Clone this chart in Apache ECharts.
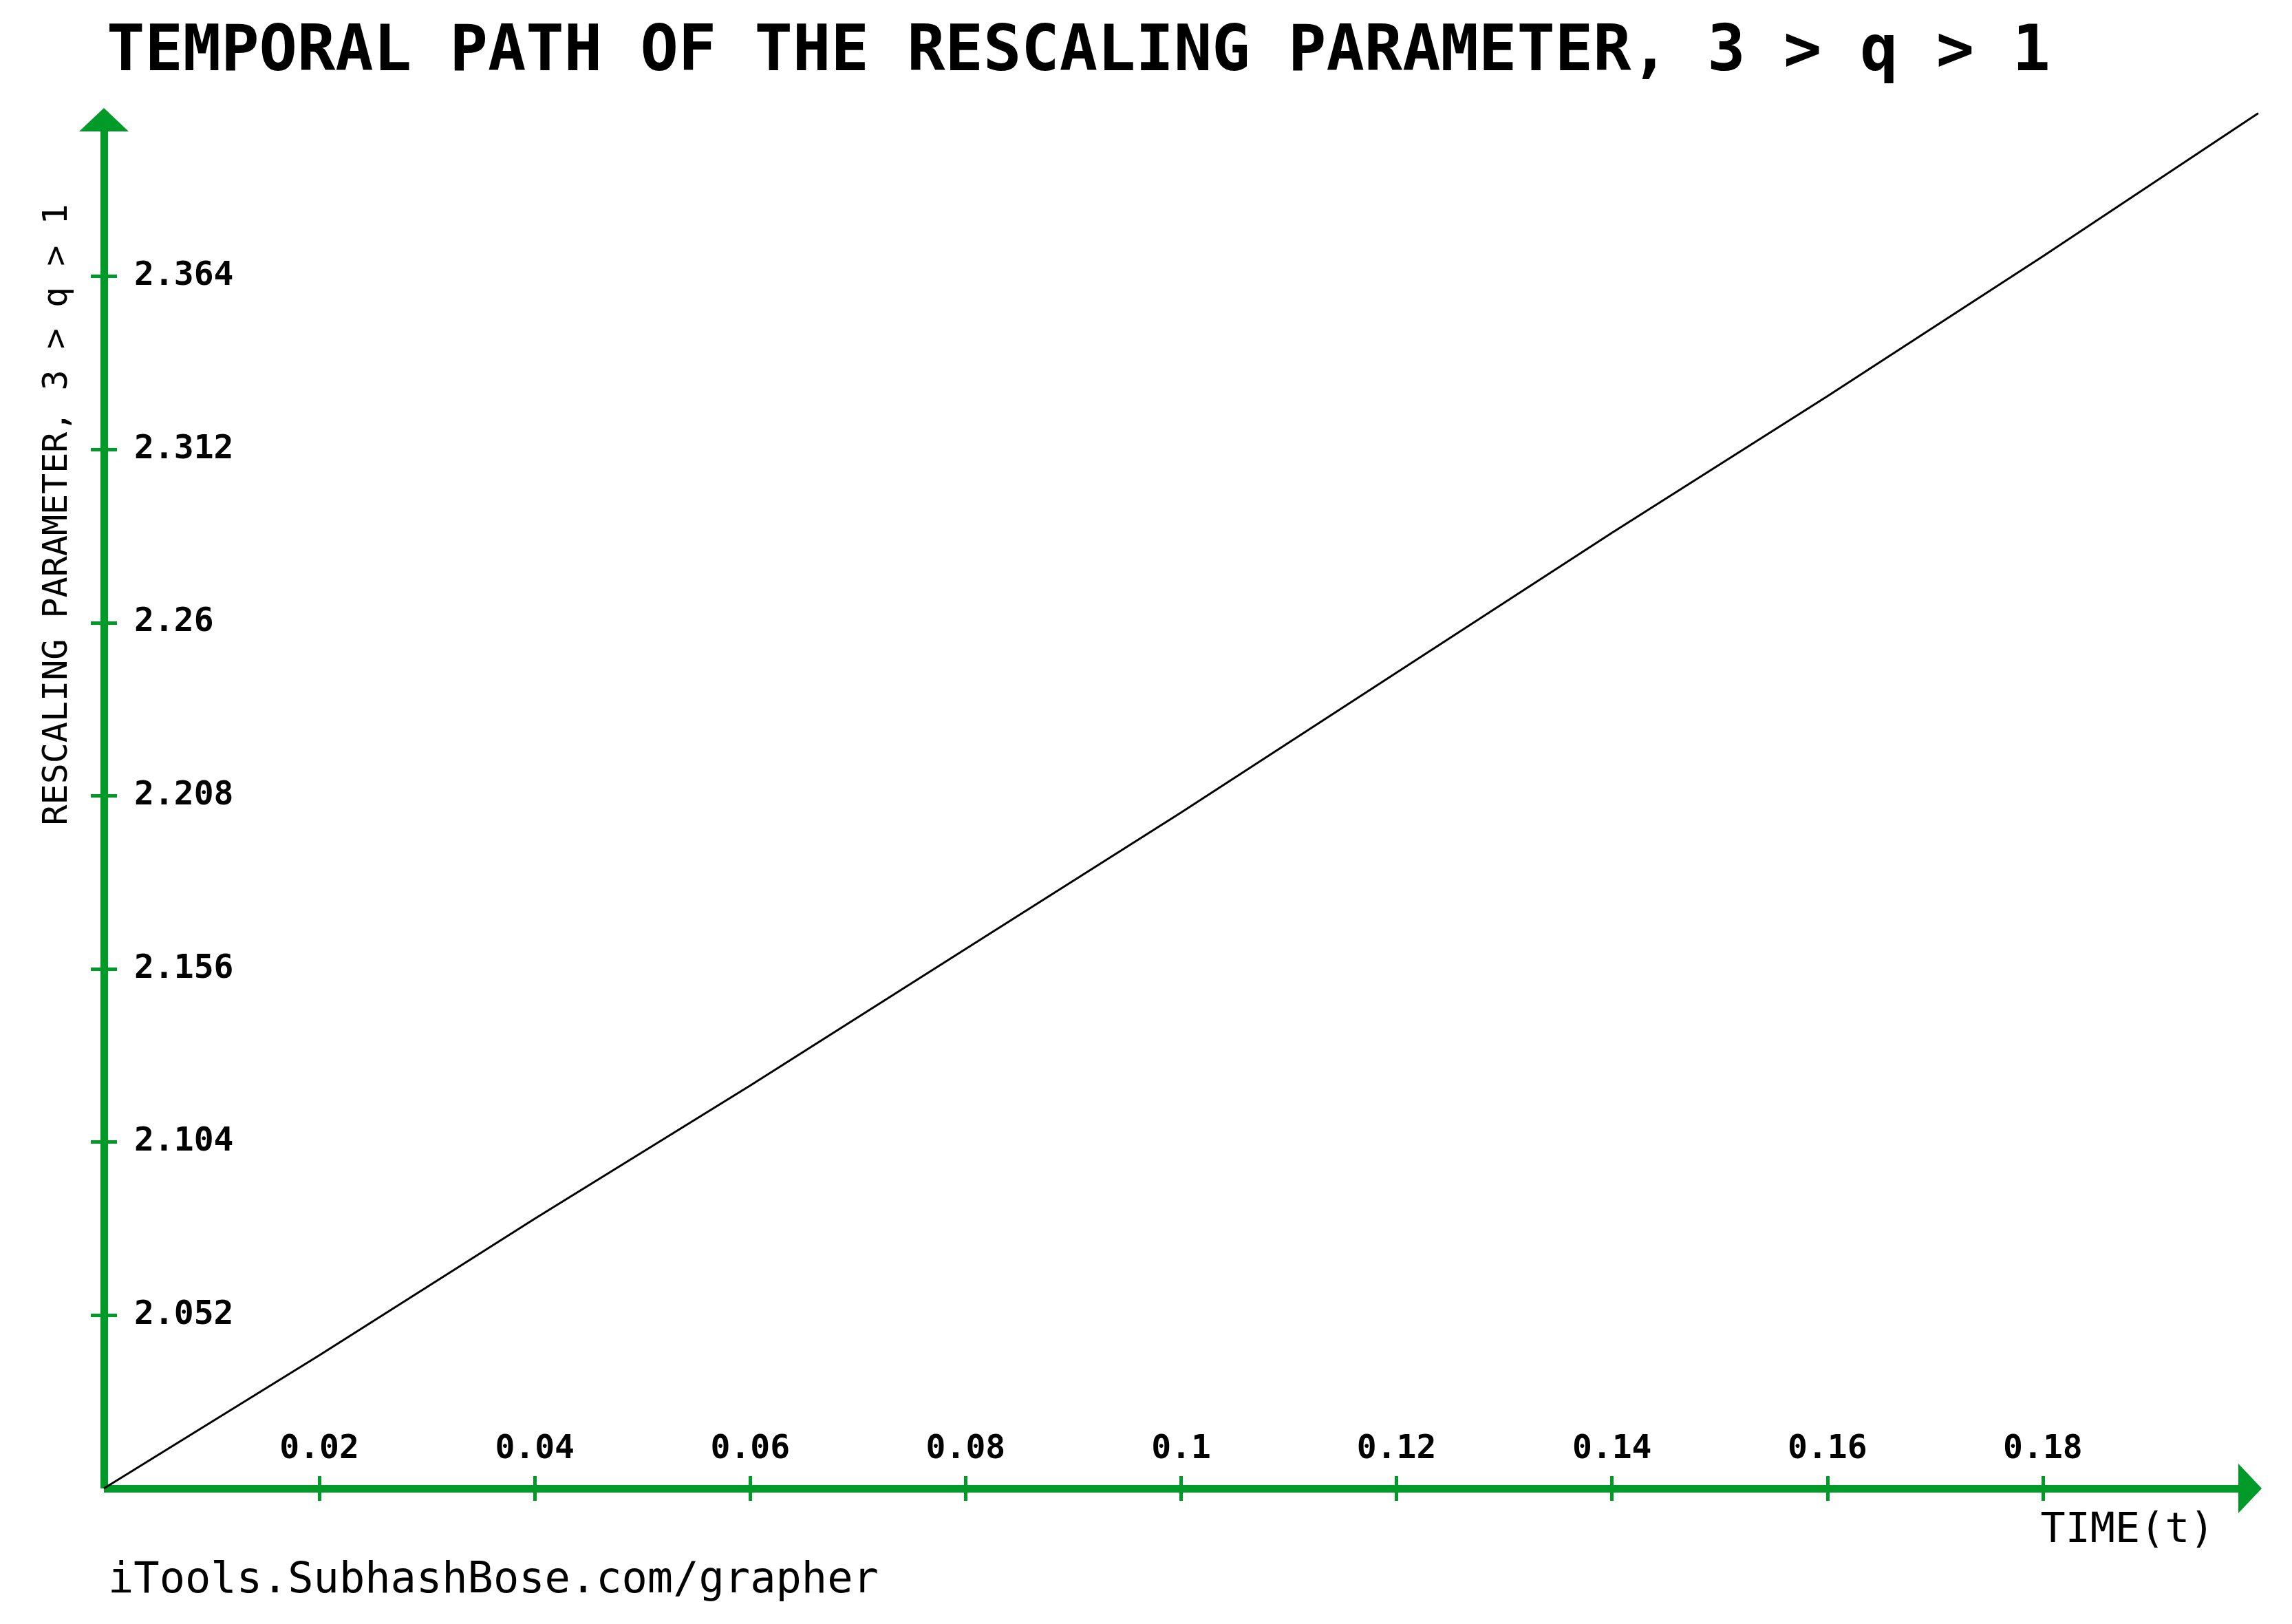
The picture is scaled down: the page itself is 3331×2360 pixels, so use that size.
<!DOCTYPE html>
<html>
<head>
<meta charset="utf-8">
<script src="https://cdn.jsdelivr.net/npm/echarts@6/dist/echarts.min.js"></script>
<style>
html,body{margin:0;padding:0;background:#fff;}
#chart{width:3331px;height:2360px;}
</style>
</head>
<body>
<div id="chart"></div>
<script>
// ---- data ----
const titleText = 'TEMPORAL PATH OF THE RESCALING PARAMETER, 3 > q > 1';
const xAxisName = 'TIME(t)';
const yAxisName = 'RESCALING PARAMETER, 3 > q > 1';
const footerText = 'iTools.SubhashBose.com/grapher';

const tValues = [0, 0.02, 0.04, 0.06, 0.08, 0.10, 0.12, 0.14, 0.16, 0.18, 0.20];
const qValues = [2.000, 2.040, 2.081, 2.121, 2.162, 2.203, 2.245, 2.287, 2.328, 2.370, 2.413];

const xTickValues = [0.02, 0.04, 0.06, 0.08, 0.1, 0.12, 0.14, 0.16, 0.18];
const yTickValues = [2.052, 2.104, 2.156, 2.208, 2.26, 2.312, 2.364];

// ---- styling ----
const GREEN = '#009a28';
const MONO = "'DejaVu Sans Mono', 'Liberation Mono', monospace";
const X_MIN = 0, X_MAX = 0.2;
const Y_MIN = 2.0, Y_MAX = 2.4135;

const seriesData = tValues.map((t, i) => [t, qValues[i]]);
const fmt = (d) => (v) => String(+Number(v).toFixed(d));

const chart = echarts.init(document.getElementById('chart'));
chart.setOption({
  backgroundColor: '#ffffff',
  animation: false,
  title: [
    {
      text: titleText, left: 150, top: 27,
      textStyle: { fontFamily: MONO, fontSize: 92, fontWeight: 'bold', color: '#000' }
    },
    {
      text: footerText, left: 152, top: 2262,
      textStyle: { fontFamily: MONO, fontSize: 62, fontWeight: 'normal', color: '#000' }
    }
  ],
  grid: { left: 151, right: 49, top: 162, bottom: 197, containLabel: false, outerBoundsMode: 'none' },
  xAxis: [
    {
      type: 'value', min: X_MIN, max: X_MAX, position: 'bottom',
      axisLine: { show: true, onZero: false, symbol: ['none', 'triangle'], symbolSize: [72, 34],
        symbolOffset: [0, -12],
        lineStyle: { color: GREEN, width: 11, cap: 'butt' } },
      axisTick: { show: true, inside: false, length: 18, customValues: xTickValues,
        lineStyle: { color: GREEN, width: 5 } },
      axisLabel: { show: true, inside: true, margin: 32, customValues: xTickValues, formatter: fmt(2),
        fontFamily: MONO, fontSize: 48, fontWeight: 'bold', color: '#000' },
      splitLine: { show: false },
      name: xAxisName, nameLocation: 'middle', nameGap: 32, nameMoveOverlap: false,
      nameTextStyle: { fontFamily: MONO, fontSize: 60, color: '#000', padding: [0, 0, 0, 2751] }
    },
    {
      type: 'value', min: X_MIN, max: X_MAX, position: 'bottom',
      axisLine: { show: false },
      axisTick: { show: true, inside: true, length: 18, customValues: xTickValues,
        lineStyle: { color: GREEN, width: 5 } },
      axisLabel: { show: false },
      splitLine: { show: false }
    }
  ],
  yAxis: [
    {
      type: 'value', min: Y_MIN, max: Y_MAX, position: 'left',
      axisLine: { show: true, onZero: false, symbol: ['none', 'triangle'], symbolSize: [72, 34],
        symbolOffset: [0, -12],
        lineStyle: { color: GREEN, width: 11, cap: 'butt' } },
      axisTick: { show: true, inside: false, length: 19, customValues: yTickValues,
        lineStyle: { color: GREEN, width: 5 } },
      axisLabel: { show: true, inside: true, margin: 44, customValues: yTickValues, formatter: fmt(3),
        fontFamily: MONO, fontSize: 48, fontWeight: 'bold', color: '#000' },
      splitLine: { show: false },
      name: yAxisName, nameLocation: 'middle', nameGap: 42, nameRotate: 90, nameMoveOverlap: false,
      nameTextStyle: { fontFamily: MONO, fontSize: 50, color: '#000', padding: [0, 0, 0, 829] }
    },
    {
      type: 'value', min: Y_MIN, max: Y_MAX, position: 'left',
      axisLine: { show: false },
      axisTick: { show: true, inside: true, length: 19, customValues: yTickValues,
        lineStyle: { color: GREEN, width: 5 } },
      axisLabel: { show: false },
      splitLine: { show: false }
    }
  ],
  series: [
    {
      type: 'line', xAxisIndex: 0, yAxisIndex: 0, data: seriesData,
      showSymbol: false, symbol: 'none', clip: false, smooth: false,
      lineStyle: { color: '#000', width: 3 }
    }
  ]
});
</script>
</body>
</html>
